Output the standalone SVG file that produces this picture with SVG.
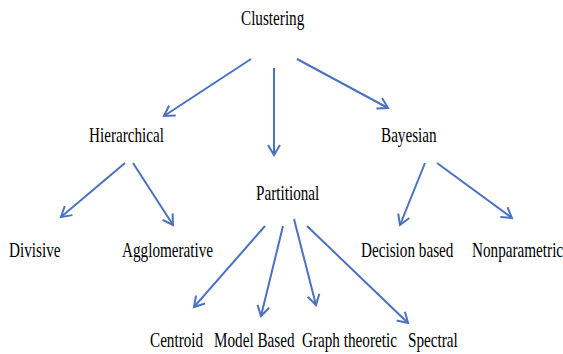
<svg xmlns="http://www.w3.org/2000/svg" width="563" height="354" viewBox="0 0 563 354">
<style>
text{font-family:"Liberation Serif","Times New Roman",serif;font-size:20px;fill:#000;}
.c line{stroke:#4a72c0;stroke-width:2;marker-end:url(#ah);}
</style>
<defs>
<marker id="ah" markerUnits="userSpaceOnUse" markerWidth="16" markerHeight="16" refX="11" refY="7" orient="auto">
<path d="M1,1 L11,7 L1,13" fill="none" stroke="#4a72c0" stroke-width="2"/>
</marker>
</defs>
<rect width="563" height="354" fill="#fff"/>
<g id="clustering"><text transform="translate(241,25) scale(0.76,1)">Clustering</text></g>
<g id="hierarchical"><text transform="translate(89,142) scale(0.76,1)">Hierarchical</text></g>
<g id="partitional"><text transform="translate(256,200) scale(0.76,1)">Partitional</text></g>
<g id="bayesian"><text transform="translate(381,142) scale(0.76,1)">Bayesian</text></g>
<g id="divisive"><text transform="translate(9,257) scale(0.76,1)">Divisive</text></g>
<g id="agglomerative"><text transform="translate(122,257) scale(0.76,1)">Agglomerative</text></g>
<g id="decision"><text transform="translate(361,257) scale(0.76,1)">Decision based</text></g>
<g id="nonparametric"><text transform="translate(472,257) scale(0.76,1)">Nonparametric</text></g>
<g id="centroid"><text transform="translate(150,347) scale(0.76,1)">Centroid</text></g>
<g id="model"><text transform="translate(214,347) scale(0.76,1)">Model Based</text></g>
<g id="graph"><text transform="translate(302,347) scale(0.76,1)">Graph theoretic</text></g>
<g id="spectral"><text transform="translate(408,347) scale(0.76,1)">Spectral</text></g>
<g id="connectors" class="c">
<line x1="251" y1="59" x2="164" y2="116"/>
<line x1="274" y1="68" x2="274" y2="155"/>
<line x1="297" y1="59" x2="388" y2="108"/>
<line x1="125" y1="163" x2="61" y2="217"/>
<line x1="133" y1="163" x2="173" y2="225"/>
<line x1="425" y1="163" x2="400" y2="225"/>
<line x1="437" y1="163" x2="512" y2="218"/>
<line x1="265" y1="226" x2="194" y2="307"/>
<line x1="283" y1="226" x2="261" y2="316"/>
<line x1="294" y1="219" x2="316" y2="305"/>
<line x1="307" y1="226" x2="408" y2="323"/>
</g>
</svg>
